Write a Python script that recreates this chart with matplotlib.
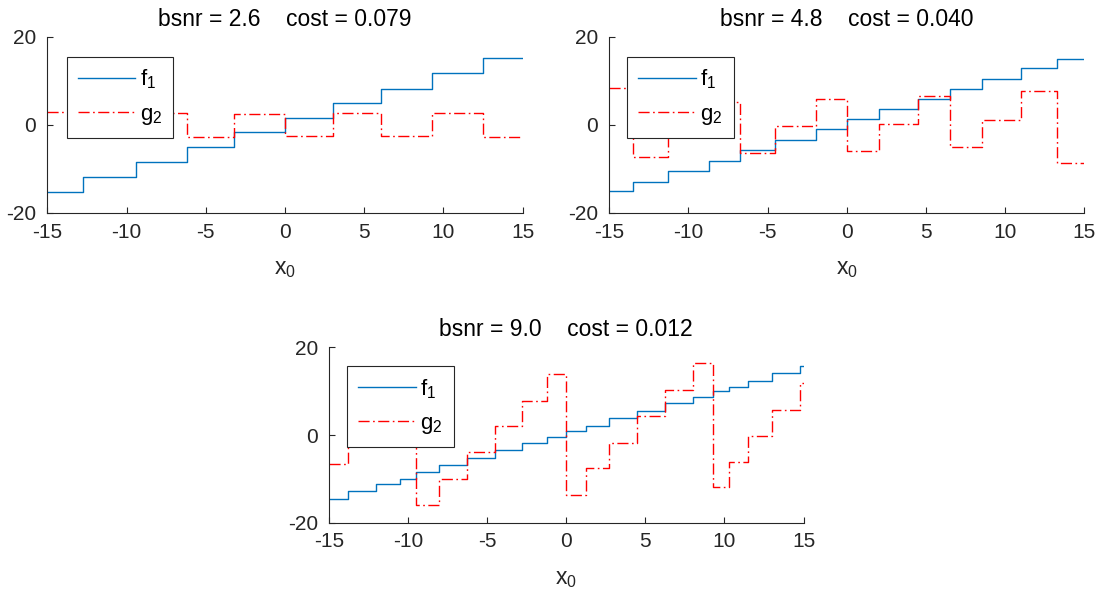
import matplotlib
matplotlib.use("Agg")
import matplotlib.pyplot as plt

plt.rcParams['font.family'] = ['Liberation Sans', 'DejaVu Sans']
plt.rcParams['mathtext.default'] = 'regular'
plt.rcParams['axes.unicode_minus'] = False

# ---------------- data ----------------
titles = ["bsnr = 2.6    cost = 0.079",
          "bsnr = 4.8    cost = 0.040",
          "bsnr = 9.0    cost = 0.012"]

x_range = [-15, 15]

# panel 1
p1_edges = [-12.73, -9.42, -6.21, -3.22, 0.0, 3.01, 6.04, 9.26, 12.52]
p1_f = [-15.2, -11.8, -8.37, -4.94, -1.60, 1.67, 5.02, 8.29, 11.86, 15.2]
p1_g = [2.85, -2.45, 2.7, -2.65, 2.5, -2.6, 2.65, -2.5, 2.75, -2.75]

# panel 2
p2_edges = [-13.52, -11.27, -8.73, -6.73, -4.51, -1.94, 0.0, 2.03, 4.54,
            6.52, 8.55, 11.05, 13.31]
p2_f = [-14.98, -12.85, -10.42, -8.14, -5.78, -3.35, -0.99, 1.29, 3.57,
        5.86, 8.14, 10.49, 12.85, 15.06]
p2_g = [8.44, -7.22, -1.0, 5.3, -6.4, -0.3, 5.86, -5.86, 0.30, 6.7,
        -5.1, 1.22, 7.83, -8.67]

# panel 3
p3_edges = [-13.78, -12.05, -10.51, -9.52, -8.02, -6.25, -4.50, -2.77, -1.23,
            0.0, 1.24, 2.73, 4.50, 6.25, 7.99, 9.25, 10.26, 11.52, 13.0, 14.75]
p3_f = [-14.6, -12.78, -11.1, -9.96, -8.52, -6.92, -5.17, -3.5, -1.9, -0.5,
        0.84, 2.13, 3.8, 5.55, 7.3, 8.67, 9.96, 11.03, 12.4, 14.14, 15.8]
p3_g = [-6.62, -0.7, 5.3, 11.2, -16.0, -9.96, -3.95, 1.98, 7.83, 13.9,
        -13.6, -7.6, -1.83, 4.26, 10.2, 16.4, -11.8, -6.16, -0.3, 5.63, 11.86]

x_ticks = [-15, -10, -5, 0, 5, 10, 15]
y_ticks = [-20, 0, 20]
labels = ["f$_1$", "g$_2$"]
xlabel = "x$_0$"

# ---------------- drawing ----------------
W, H = 1102, 593
fig = plt.figure(figsize=(W / 100, H / 100), dpi=100)

axc = '#262626'
positions = [
    (47.3, 37, 522.7, 213),
    (609.3, 37, 1084, 213),
    (329, 347.3, 803.5, 522.7),
]
panels = [(p1_edges, p1_f, p1_g), (p2_edges, p2_f, p2_g), (p3_edges, p3_f, p3_g)]
leg_anchor = [(0.041, 0.888), (0.038, 0.888), (0.0386, 0.893)]

for i, ((x0, y0, x1, y1), (edges, f, g)) in enumerate(zip(positions, panels)):
    ax = fig.add_axes([x0 / W, 1 - y1 / H, (x1 - x0) / W, (y1 - y0) / H])
    xs = [x_range[0]] + list(edges) + [x_range[1]]
    ax.plot(xs, list(f) + [f[-1]], drawstyle='steps-post', color='#0072BD',
            lw=1.0, label=labels[0])
    ax.plot(xs, list(g) + [g[-1]], drawstyle='steps-post', color='#FF0000',
            lw=1.0, dashes=[8, 2.5, 1.2, 2.5], label=labels[1])
    ax.set_xlim(-15, 15)
    ax.set_ylim(-20, 20)
    ax.set_xticks(x_ticks)
    ax.set_yticks(y_ticks)
    for s in ['top', 'right']:
        ax.spines[s].set_visible(False)
    for s in ['left', 'bottom']:
        ax.spines[s].set_color(axc)
        ax.spines[s].set_linewidth(0.8)
    ax.tick_params(direction='in', length=4, width=0.8, color=axc,
                   labelcolor=axc, labelsize=15)
    ax.tick_params(axis='x', pad=7)
    ax.tick_params(axis='y', pad=8)
    ax.set_title(titles[i], fontsize=16.5, color='black', pad=8)
    ax.set_xlabel(xlabel, fontsize=16.5, color=axc, labelpad=11)
    leg = ax.legend(loc='upper left', bbox_to_anchor=leg_anchor[i],
                    borderaxespad=0, fontsize=16, handlelength=2.57,
                    labelspacing=0.55, borderpad=0.5, handletextpad=0.22,
                    fancybox=False, framealpha=1, edgecolor=axc)
    leg.get_frame().set_linewidth(0.8)

fig.savefig('out.png', dpi=100)
